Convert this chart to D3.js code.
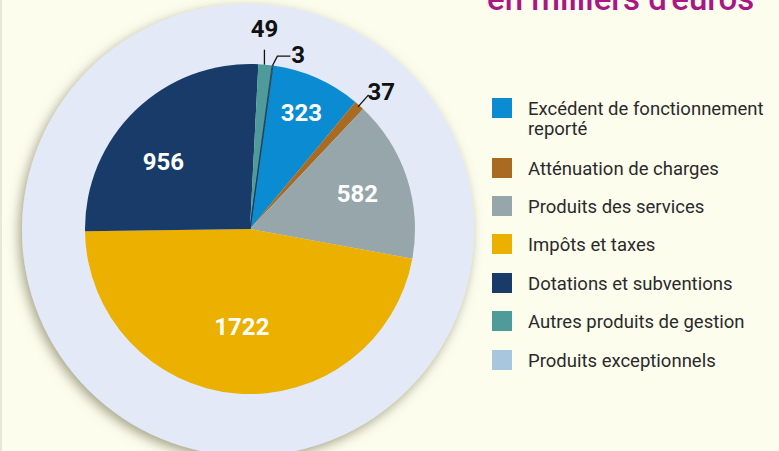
<!DOCTYPE html>
<html>
<head>
<meta charset="utf-8">
<script src="https://cdn.jsdelivr.net/npm/d3@7"></script>
<style>
  html, body { margin: 0; padding: 0; background: #fdfdee; }
  svg { display: block; }
</style>
</head>
<body>
<svg width="779" height="451"></svg>
<script>
// données : recettes de fonctionnement, en milliers d'euros
const categories = [
   "Excédent de fonctionnement reporté",
   "Atténuation de charges",
   "Produits des services",
   "Impôts et taxes",
   "Dotations et subventions",
   "Autres produits de gestion",
   "Produits exceptionnels"
];
const values = [323, 37, 582, 1722, 956, 49, 3];
const colors = ["#0a8bd2", "#a96a22", "#97a6ab", "#ebb000", "#183b69", "#4f9a9b", "#a8c6dd"];
const legendLines = [["Excédent de fonctionnement", "reporté"], ["Atténuation de charges"], ["Produits des services"],
   ["Impôts et taxes"], ["Dotations et subventions"], ["Autres produits de gestion"], ["Produits exceptionnels"]];
const title = "en milliers d'euros";

const svg = d3.select("svg");
const cx = 250, cy = 229, r = 165;

// ombre du grand disque
const defs = svg.append("defs");
const f = defs.append("filter").attr("id", "shadow")
   .attr("x", "-20%").attr("y", "-20%").attr("width", "140%").attr("height", "140%");
f.append("feDropShadow").attr("dx", -3).attr("dy", 4).attr("stdDeviation", 6)
   .attr("flood-color", "#6b6a4a").attr("flood-opacity", 0.6);

svg.append("rect").attr("width", 779).attr("height", 451).attr("fill", "#fdfdee");
svg.append("rect").attr("width", 2).attr("height", 451).attr("fill", "#e8e8d8");

svg.append("circle")
   .attr("cx", 248).attr("cy", 230).attr("r", 226)
   .attr("fill", "#e4e9f7")
   .attr("filter", "url(#shadow)");

const data = categories.map((c, i) => ({ cat: c, value: values[i], color: colors[i] }));

const pie = d3.pie().value(d => d.value).sort(null)
   .startAngle(8 * Math.PI / 180).endAngle(8 * Math.PI / 180 + 2 * Math.PI);
const arcs = pie(data);
const arc = d3.arc().innerRadius(0).outerRadius(r);

const g = svg.append("g").attr("transform", `translate(${cx},${cy})`);
g.selectAll("path.slice")
   .data(arcs)
   .enter()
   .append("path")
   .attr("class", "slice")
   .attr("d", arc)
   .attr("fill", d => d.data.color)
   .attr("stroke", d => d.data.value < 10 ? "#1d3550" : "none")
   .attr("stroke-width", 0.9);

// étiquettes intérieures (blanches)
const inner = arcs.filter(d => d.value > 300);
const innerR = { 323: 127, 582: 113, 1722: 98, 956: 110 };
const innerShift = { 956: -8 }; // degrés
g.selectAll("text.in")
   .data(inner)
   .enter()
   .append("text")
   .attr("class", "in")
   .attr("transform", d => {
      const a = (d.startAngle + d.endAngle) / 2 + (innerShift[d.value] || 0) * Math.PI / 180;
      const rr = innerR[d.value];
      return `translate(${rr * Math.sin(a)},${-rr * Math.cos(a)})`;
   })
   .attr("text-anchor", "middle")
   .attr("dy", "0.36em")
   .attr("fill", "#fff")
   .style("font-family", "Roboto, sans-serif")
   .style("font-weight", "bold")
   .style("font-size", "24px")
   .text(d => d.value);

// étiquettes extérieures avec traits de rappel
function pt(a, rr) { return [rr * Math.sin(a), -rr * Math.cos(a)]; }
const outer = arcs.filter(d => d.value < 100);
outer.forEach(d => {
   const a = (d.startAngle + d.endAngle) / 2;
   let pts, lx, ly, anchor;
   if (d.value === 49) {
      const p0 = pt(a - 0.005, r), p1 = pt(a - 0.005, r + 15);
      pts = [p0, [p0[0], p1[1]]];
      lx = p0[0]; ly = -r - 27; anchor = "middle";
   } else if (d.value === 3) {
      const p0 = pt(a, r), p1 = pt(a + 0.02, r + 10);
      pts = [p0, p1, [p1[0] + 13, p1[1]]];
      lx = p1[0] + 14; ly = p1[1] + 7; anchor = "start";
   } else {
      const p0 = pt(a, r - 2), p1 = pt(a, r + 14);
      pts = [p0, p1];
      lx = p1[0] - 1; ly = p1[1] + 5; anchor = "start";
   }
   g.append("path")
      .attr("d", d3.line()(pts))
      .attr("fill", "none")
      .attr("stroke", "#111")
      .attr("stroke-width", 1.3);
   g.append("text")
      .attr("x", lx).attr("y", ly)
      .attr("text-anchor", anchor)
      .attr("fill", "#111")
      .style("font-family", "Roboto, sans-serif")
      .style("font-weight", "bold")
      .style("font-size", "24px")
      .text(d.value);
});

// titre (coupé en haut)
svg.append("text")
   .attr("x", 487).attr("y", 10)
   .attr("fill", "#aa1685")
   .style("font-family", "Roboto, sans-serif")
   .style("font-weight", "500")
   .style("font-size", "33px")
   .text(title);

// légende
const yBand = d3.scaleOrdinal()
   .domain(categories)
   .range([98, 158, 196, 234, 273, 311, 350]);
const leg = svg.append("g");
const rows = leg.selectAll("g.row")
   .data(data)
   .enter()
   .append("g")
   .attr("class", "row")
   .attr("transform", d => `translate(492,${yBand(d.cat)})`);
rows.append("rect")
   .attr("width", 20).attr("height", 20)
   .attr("fill", d => d.color);
rows.append("text")
   .attr("x", 36).attr("y", 17)
   .attr("fill", "#2a2a2a")
   .style("font-family", "Roboto, sans-serif")
   .style("font-size", "18.5px")
   .selectAll("tspan")
   .data((d, i) => legendLines[i])
   .enter()
   .append("tspan")
   .attr("x", 36)
   .attr("dy", (t, j) => j === 0 ? 0 : 20)
   .text(t => t);
</script>
</body>
</html>
